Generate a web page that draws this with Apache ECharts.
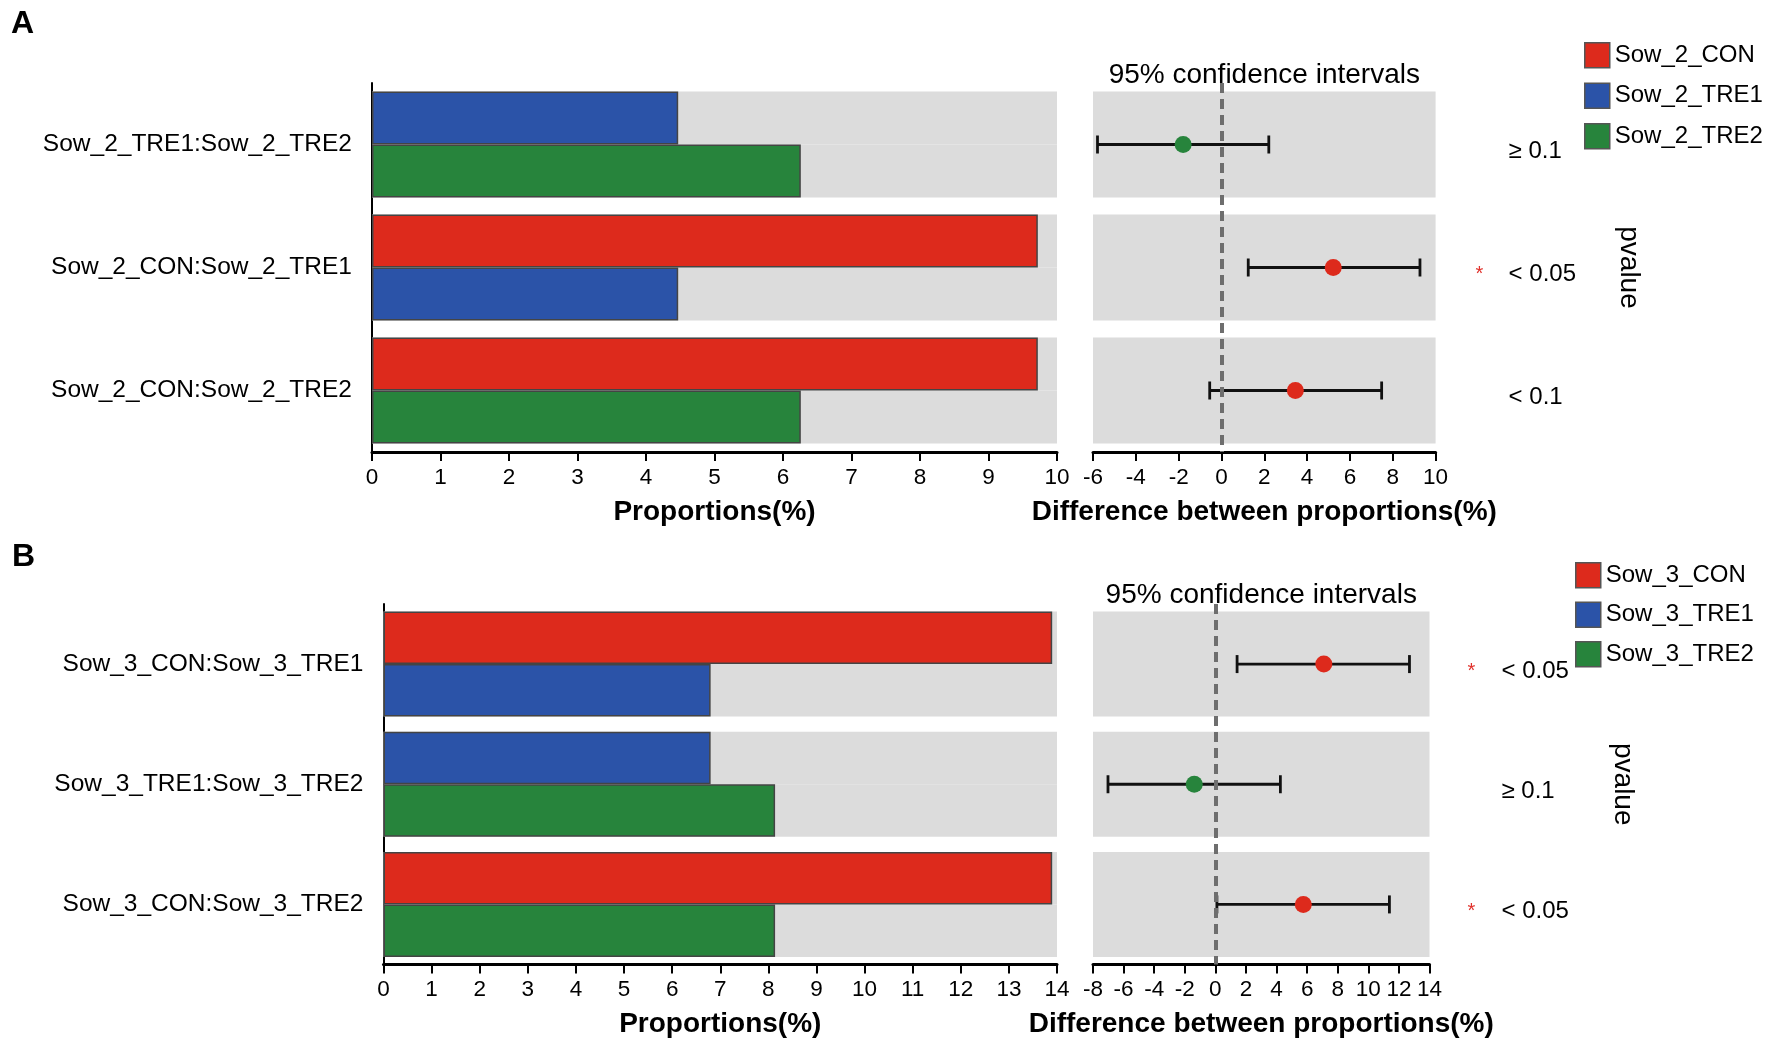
<!DOCTYPE html>
<html>
<head>
<meta charset="utf-8" />
<title>Proportions and 95% confidence intervals</title>
<script src="https://cdn.jsdelivr.net/npm/echarts@6/dist/echarts.min.js"></script>
<style type="text/css">
	html, body {margin: 0; padding: 0; background: #fff;}
	#main {width: 1772px; height: 1047px;}
</style>
</head>
<body>
<div id="main"></div>
<script type="text/javascript">
	// panel A
	var catsA = ['Sow_2_TRE1:Sow_2_TRE2', 'Sow_2_CON:Sow_2_TRE1', 'Sow_2_CON:Sow_2_TRE2'];
	var groupsA = ['Sow_2_CON', 'Sow_2_TRE1', 'Sow_2_TRE2'];
	var propA = [9.72, 4.47, 6.26];
	var diffA = [-1.79, 5.22, 3.45];
	var lowA = [-5.79, 1.25, -0.55];
	var highA = [2.21, 9.27, 7.48];
	var pA = ['≥ 0.1', '< 0.05', '< 0.1'];
	var starA = [false, true, false];
	var propAxisA = [0, 10];
	var diffAxisA = [-6, 10];

	// panel B
	var catsB = ['Sow_3_CON:Sow_3_TRE1', 'Sow_3_TRE1:Sow_3_TRE2', 'Sow_3_CON:Sow_3_TRE2'];
	var groupsB = ['Sow_3_CON', 'Sow_3_TRE1', 'Sow_3_TRE2'];
	var propB = [13.9, 6.8, 8.14];
	var diffB = [7.09, -1.38, 5.75];
	var lowB = [1.42, -7.02, 0.1];
	var highB = [12.69, 4.25, 11.38];
	var pB = ['< 0.05', '≥ 0.1', '< 0.05'];
	var starB = [true, false, true];
	var propAxisB = [0, 14];
	var diffAxisB = [-8, 14];

	var colors = ['#dd2a1c', '#2b53a8', '#27843c'];
	var font = 'Liberation Sans, Arial, Helvetica, sans-serif';

	var option = {
		animation: false,
		textStyle: {fontFamily: font, color: '#000'},
		title: [], legend: [], grid: [], xAxis: [], yAxis: [], series: []
	};

	function axisX(gi, min, max, step, name, nameGap) {
		return {
			type: 'value', gridIndex: gi, min: min, max: max, interval: step,
			axisLine: {show: true, onZero: false, lineStyle: {color: '#000', width: 3}},
			axisTick: {show: true, inside: false, length: 9, lineStyle: {color: '#000', width: 2}},
			axisLabel: {fontSize: 22.5, color: '#000', margin: 14},
			splitLine: {show: false},
			name: name, nameLocation: 'middle', nameGap: nameGap,
			nameTextStyle: {fontSize: 28, fontWeight: 'bold', color: '#000'}
		};
	}

	function renderCI(params, api) {
		var lo = api.coord([api.value(0), api.value(2)]);
		var hi = api.coord([api.value(1), api.value(2)]);
		var h = 9;
		var st = {stroke: '#111', lineWidth: 2.8};
		return {type: 'group', children: [
			{type: 'line', shape: {x1: lo[0], y1: lo[1], x2: hi[0], y2: hi[1]}, style: st},
			{type: 'line', shape: {x1: lo[0], y1: lo[1] - h, x2: lo[0], y2: lo[1] + h}, style: st},
			{type: 'line', shape: {x1: hi[0], y1: hi[1] - h, x2: hi[0], y2: hi[1] + h}, style: st}
		]};
	}

	function addPanel(d, L) {
		var g0 = option.grid.length;
		option.grid.push({left: L.left, top: L.top, width: L.wLeft, height: L.h});
		option.grid.push({left: L.rLeft, top: L.top, width: L.wRight, height: L.h});

		var x0 = option.xAxis.length;
		option.xAxis.push(axisX(g0, d.propAxis[0], d.propAxis[1], 1, 'Proportions(%)', L.nameGap));
		option.xAxis.push(axisX(g0 + 1, d.diffAxis[0], d.diffAxis[1], 2, 'Difference between proportions(%)', L.nameGap));

		var y0 = option.yAxis.length;
		option.yAxis.push({
			type: 'category', gridIndex: g0, data: d.cats, inverse: true,
			axisLine: {show: true, lineStyle: {color: '#000', width: 2}},
			axisTick: {show: false},
			axisLabel: {fontSize: 24.5, color: '#000', margin: 20}
		});
		option.yAxis.push({
			type: 'category', gridIndex: g0 + 1, data: d.cats, inverse: true, position: 'right',
			axisLine: {show: false}, axisTick: {show: false},
			axisLabel: {
				margin: L.pMargin, padding: [14, 0, 0, 0],
				formatter: function (v, i) {
					return (d.star[i] ? '{s|*}' : '{e|}') + '{p|' + d.p[i] + '}';
				},
				rich: {
					s: {width: L.starW, fontSize: 20, color: '#e0302a'},
					e: {width: L.starW, fontSize: 20},
					p: {fontSize: 24, color: '#000'}
				}
			},
			name: 'pvalue', nameLocation: 'middle', nameGap: L.pvGap, nameRotate: -90,
			nameTextStyle: {fontSize: 28, color: '#000'}
		});

		// bars: first group of the pair on top, second below
		var upper = [], lower = [];
		d.cats.forEach(function (c) {
			var pair = c.split(':');
			var a = d.groups.indexOf(pair[0]), b = d.groups.indexOf(pair[1]);
			upper.push({value: d.prop[a], itemStyle: {color: colors[a]}});
			lower.push({value: d.prop[b], itemStyle: {color: colors[b]}});
		});
		[upper, lower].forEach(function (arr) {
			option.series.push({
				type: 'bar', xAxisIndex: x0, yAxisIndex: y0, data: arr,
				barWidth: L.barW, barGap: '0%',
				showBackground: true, backgroundStyle: {color: '#dcdcdc'},
				itemStyle: {borderColor: '#444', borderWidth: 1.5},
				silent: true
			});
		});

		// grey rows behind the confidence intervals + zero line
		option.series.push({
			type: 'bar', xAxisIndex: x0 + 1, yAxisIndex: y0 + 1,
			data: d.cats.map(function () { return 0; }),
			barWidth: L.barW * 2, showBackground: true, backgroundStyle: {color: '#dcdcdc'},
			itemStyle: {color: 'rgba(0,0,0,0)'}, silent: true, z: 1,
			markLine: {
				silent: true, symbol: 'none', label: {show: false},
				lineStyle: {type: [10, 6], color: '#6e6e6e', width: 4},
				emphasis: {disabled: true},
				data: [{xAxis: 0}]
			}
		});

		option.series.push({
			type: 'custom', xAxisIndex: x0 + 1, yAxisIndex: y0 + 1, z: 3, silent: true,
			renderItem: renderCI,
			encode: {x: [0, 1], y: 2},
			data: d.cats.map(function (c, i) { return [d.low[i], d.high[i], i]; })
		});

		// point coloured by the group with the larger proportion
		d.groups.forEach(function (gname, gi) {
			var pts = [];
			d.cats.forEach(function (c, i) {
				var pair = c.split(':');
				var win = d.diff[i] >= 0 ? pair[0] : pair[1];
				if (win === gname) pts.push([d.diff[i], i]);
			});
			option.series.push({
				type: 'scatter', name: gname, xAxisIndex: x0 + 1, yAxisIndex: y0 + 1,
				data: pts, symbol: 'circle', symbolSize: 17, z: 4,
				itemStyle: {color: colors[gi], opacity: 1}
			});
		});

		option.legend.push({
			data: d.groups, orient: 'vertical', left: L.legLeft, top: L.legTop,
			padding: 0, icon: 'rect', itemWidth: 25, itemHeight: 25, itemGap: L.legGap,
			selectedMode: false,
			itemStyle: {borderColor: '#555', borderWidth: 1.5},
			textStyle: {fontSize: 24, color: '#000', fontFamily: font}
		});

		option.title.push({
			text: d.letter, left: L.letterLeft, top: L.letterTop, padding: 0,
			textStyle: {fontSize: 32, fontWeight: 'bold', color: '#000', fontFamily: font}
		});
		option.title.push({
			text: '95% confidence intervals', left: L.rLeft + L.wRight / 2, top: L.ciTop,
			textAlign: 'center', padding: 0,
			textStyle: {fontSize: 28, fontWeight: 'normal', color: '#000', fontFamily: font}
		});
	}

	addPanel(
		{letter: 'A', cats: catsA, groups: groupsA, prop: propA, diff: diffA, low: lowA, high: highA,
			p: pA, star: starA, propAxis: propAxisA, diffAxis: diffAxisA},
		{left: 372, top: 83, wLeft: 685, h: 369, rLeft: 1093, wRight: 342.6, barW: 53,
			nameGap: 46, pMargin: 40, starW: 33, pvGap: 179,
			legLeft: 1584, legTop: 42, legGap: 14, letterLeft: 11, letterTop: 8, ciTop: 61}
	);
	addPanel(
		{letter: 'B', cats: catsB, groups: groupsB, prop: propB, diff: diffB, low: lowB, high: highB,
			p: pB, star: starB, propAxis: propAxisB, diffAxis: diffAxisB},
		{left: 383.5, top: 604, wLeft: 673.5, h: 360.5, rLeft: 1093, wRight: 336.5, barW: 52.5,
			nameGap: 46, pMargin: 38, starW: 34, pvGap: 179,
			legLeft: 1575, legTop: 562, legGap: 13, letterLeft: 12, letterTop: 541, ciTop: 581}
	);

	var myChart = echarts.init(document.getElementById('main'));
	myChart.setOption(option);
</script>
</body>
</html>
